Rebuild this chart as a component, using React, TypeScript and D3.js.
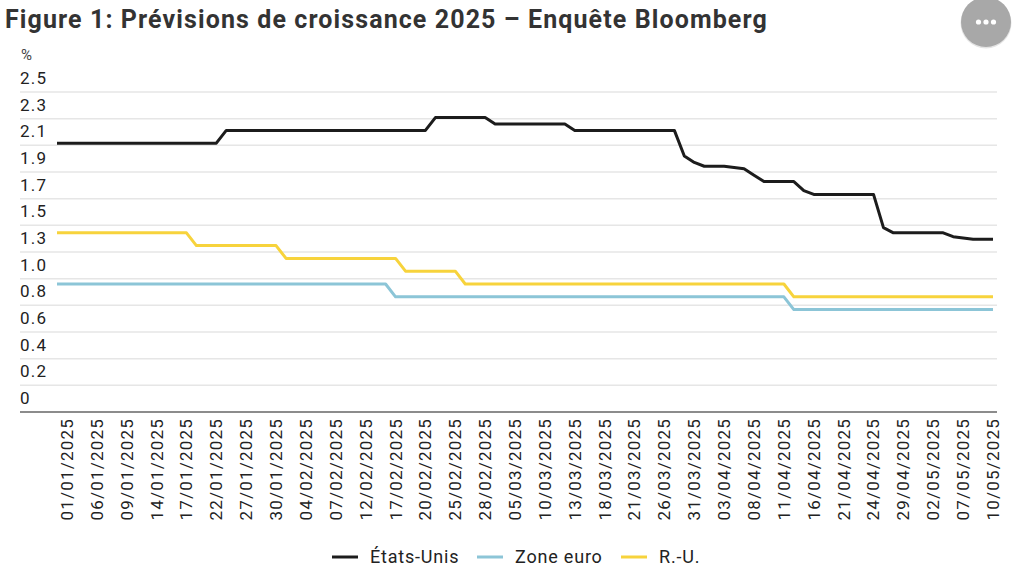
import React, { useEffect, useRef } from 'react';
import * as d3 from 'd3';

const dates: string[] = [
  '31/12/2024',
  '01/01/2025','02/01/2025','03/01/2025','06/01/2025','07/01/2025','08/01/2025','09/01/2025','10/01/2025','13/01/2025','14/01/2025',
  '15/01/2025','16/01/2025','17/01/2025','20/01/2025','21/01/2025','22/01/2025','23/01/2025','24/01/2025','27/01/2025','28/01/2025',
  '29/01/2025','30/01/2025','31/01/2025','03/02/2025','04/02/2025','05/02/2025','06/02/2025','07/02/2025','10/02/2025','11/02/2025',
  '12/02/2025','13/02/2025','14/02/2025','17/02/2025','18/02/2025','19/02/2025','20/02/2025','21/02/2025','24/02/2025','25/02/2025',
  '26/02/2025','27/02/2025','28/02/2025','03/03/2025','04/03/2025','05/03/2025','06/03/2025','07/03/2025','10/03/2025','11/03/2025',
  '12/03/2025','13/03/2025','14/03/2025','17/03/2025','18/03/2025','19/03/2025','20/03/2025','21/03/2025','24/03/2025','25/03/2025',
  '26/03/2025','27/03/2025','28/03/2025','31/03/2025','01/04/2025','02/04/2025','03/04/2025','04/04/2025','07/04/2025','08/04/2025',
  '09/04/2025','10/04/2025','11/04/2025','14/04/2025','15/04/2025','16/04/2025','17/04/2025','18/04/2025','21/04/2025','22/04/2025',
  '23/04/2025','24/04/2025','25/04/2025','28/04/2025','29/04/2025','30/04/2025','01/05/2025','02/05/2025','05/05/2025','06/05/2025',
  '07/05/2025','08/05/2025','09/05/2025','10/05/2025',
];

const usValues: number[] = [
  2.1, 2.1, 2.1, 2.1, 2.1, 2.1, 2.1, 2.1, 2.1, 2.1,
  2.1, 2.1, 2.1, 2.1, 2.1, 2.1, 2.1, 2.2, 2.2, 2.2,
  2.2, 2.2, 2.2, 2.2, 2.2, 2.2, 2.2, 2.2, 2.2, 2.2,
  2.2, 2.2, 2.2, 2.2, 2.2, 2.2, 2.2, 2.2, 2.3, 2.3,
  2.3, 2.3, 2.3, 2.3, 2.25, 2.25, 2.25, 2.25, 2.25, 2.25,
  2.25, 2.25, 2.2, 2.2, 2.2, 2.2, 2.2, 2.2, 2.2, 2.2,
  2.2, 2.2, 2.2, 2.0, 1.95, 1.92, 1.92, 1.92, 1.91, 1.9,
  1.85, 1.8, 1.8, 1.8, 1.8, 1.73, 1.7, 1.7, 1.7, 1.7,
  1.7, 1.7, 1.7, 1.44, 1.4, 1.4, 1.4, 1.4, 1.4, 1.4,
  1.37, 1.36, 1.35, 1.35, 1.35,
];

const euroValues: number[] = [
  1.0, 1.0, 1.0, 1.0, 1.0, 1.0, 1.0, 1.0, 1.0, 1.0,
  1.0, 1.0, 1.0, 1.0, 1.0, 1.0, 1.0, 1.0, 1.0, 1.0,
  1.0, 1.0, 1.0, 1.0, 1.0, 1.0, 1.0, 1.0, 1.0, 1.0,
  1.0, 1.0, 1.0, 1.0, 0.9, 0.9, 0.9, 0.9, 0.9, 0.9,
  0.9, 0.9, 0.9, 0.9, 0.9, 0.9, 0.9, 0.9, 0.9, 0.9,
  0.9, 0.9, 0.9, 0.9, 0.9, 0.9, 0.9, 0.9, 0.9, 0.9,
  0.9, 0.9, 0.9, 0.9, 0.9, 0.9, 0.9, 0.9, 0.9, 0.9,
  0.9, 0.9, 0.9, 0.9, 0.8, 0.8, 0.8, 0.8, 0.8, 0.8,
  0.8, 0.8, 0.8, 0.8, 0.8, 0.8, 0.8, 0.8, 0.8, 0.8,
  0.8, 0.8, 0.8, 0.8, 0.8,
];

const ukValues: number[] = [
  1.4, 1.4, 1.4, 1.4, 1.4, 1.4, 1.4, 1.4, 1.4, 1.4,
  1.4, 1.4, 1.4, 1.4, 1.3, 1.3, 1.3, 1.3, 1.3, 1.3,
  1.3, 1.3, 1.3, 1.2, 1.2, 1.2, 1.2, 1.2, 1.2, 1.2,
  1.2, 1.2, 1.2, 1.2, 1.2, 1.1, 1.1, 1.1, 1.1, 1.1,
  1.1, 1.0, 1.0, 1.0, 1.0, 1.0, 1.0, 1.0, 1.0, 1.0,
  1.0, 1.0, 1.0, 1.0, 1.0, 1.0, 1.0, 1.0, 1.0, 1.0,
  1.0, 1.0, 1.0, 1.0, 1.0, 1.0, 1.0, 1.0, 1.0, 1.0,
  1.0, 1.0, 1.0, 1.0, 0.9, 0.9, 0.9, 0.9, 0.9, 0.9,
  0.9, 0.9, 0.9, 0.9, 0.9, 0.9, 0.9, 0.9, 0.9, 0.9,
  0.9, 0.9, 0.9, 0.9, 0.9,
];

const yTickLabels: string[] = ['0', '0.2', '0.4', '0.6', '0.8', '1.0', '1.3', '1.5', '1.7', '1.9', '2.1', '2.3', '2.5'];
const yMax = 2.5;
const seriesNames: string[] = ['États-Unis', 'Zone euro', 'R.-U.'];
const title = 'Figure 1: Prévisions de croissance 2025 – Enquête Bloomberg';
const unitLabel = '%';
const labelStep = 3;
const labelOffset = 1;

const FONT = 'Roboto, "Noto Sans", sans-serif';

export default function App() {
  const ref = useRef<SVGSVGElement>(null);

  useEffect(() => {
    document.body.style.margin = '0';
    const svg = d3.select(ref.current);
    svg.selectAll('*').remove();

    const W = 1024;
    const gridLeft = 20;
    const gridRight = 997;
    const yBottom = 412;
    const yTop = 92;

    const x = d3.scalePoint<string>().domain(dates).range([57, 993]);
    const y = d3.scaleLinear().domain([0, yMax]).range([yBottom, yTop]);

    svg.append('rect').attr('width', W).attr('height', 570).attr('fill', '#ffffff');

    // title
    svg.append('text')
      .attr('x', 5).attr('y', 28)
      .attr('font-family', FONT).attr('font-weight', 700).attr('font-size', 25)
      .attr('letter-spacing', 1.1)
      .attr('fill', '#333333')
      .text(title);

    // menu button
    const btn = svg.append('g');
    btn.append('circle').attr('cx', 986).attr('cy', 23).attr('r', 25.5).attr('fill', '#e4e4e4');
    btn.append('circle').attr('cx', 986).attr('cy', 22).attr('r', 25).attr('fill', '#a8a8a8');
    [-7.5, 0, 7.5].forEach((d) => {
      btn.append('circle').attr('cx', 986 + d).attr('cy', 22).attr('r', 2.6).attr('fill', '#ffffff');
    });

    // unit
    svg.append('text')
      .attr('x', 21).attr('y', 60)
      .attr('font-family', FONT).attr('font-size', 15)
      .attr('fill', '#444444')
      .text(unitLabel);

    // grid + y labels
    const nT = yTickLabels.length - 1;
    yTickLabels.forEach((lab, i) => {
      const v = (i * yMax) / nT;
      const yy = y(v);
      if (i > 0) {
        svg.append('line')
          .attr('x1', gridLeft).attr('x2', gridRight)
          .attr('y1', yy).attr('y2', yy)
          .attr('stroke', '#e6e6e6').attr('stroke-width', 1.5);
      }
      svg.append('text')
        .attr('x', gridLeft).attr('y', yy - 8)
        .attr('font-family', FONT).attr('font-size', 17)
        .attr('letter-spacing', 1.2)
        .attr('fill', '#222222')
        .text(lab);
    });

    // x axis line
    svg.append('line')
      .attr('x1', gridLeft).attr('x2', gridRight)
      .attr('y1', yBottom).attr('y2', yBottom)
      .attr('stroke', '#666666').attr('stroke-width', 1.5);

    // x labels
    dates.forEach((d, i) => {
      if (i % labelStep !== labelOffset) return;
      svg.append('text')
        .attr('transform', `translate(${x(d)},418) rotate(-90)`)
        .attr('text-anchor', 'end')
        .attr('dy', '0.35em')
        .attr('font-family', FONT).attr('font-size', 17)
        .attr('letter-spacing', 1.2)
        .attr('fill', '#222222')
        .text(d);
    });

    const line = d3.line<number>()
      .x((_, i) => x(dates[i]) as number)
      .y((v) => y(v));

    const series = [
      { name: seriesNames[1], values: euroValues, color: '#8cc5d7' },
      { name: seriesNames[2], values: ukValues, color: '#f7d33c' },
      { name: seriesNames[0], values: usValues, color: '#1c1c1c' },
    ];
    series.forEach((s) => {
      svg.append('path')
        .attr('d', line(s.values) as string)
        .attr('fill', 'none')
        .attr('stroke', s.color)
        .attr('stroke-width', 3)
        .attr('stroke-linejoin', 'round')
        .attr('stroke-linecap', 'butt');
    });

    // legend
    const legendItems = [
      { name: seriesNames[0], color: '#1c1c1c', x: 332 },
      { name: seriesNames[1], color: '#8cc5d7', x: 477 },
      { name: seriesNames[2], color: '#f7d33c', x: 621 },
    ];
    legendItems.forEach((it) => {
      svg.append('line')
        .attr('x1', it.x).attr('x2', it.x + 26)
        .attr('y1', 557).attr('y2', 557)
        .attr('stroke', it.color).attr('stroke-width', 3);
      svg.append('text')
        .attr('x', it.x + 38).attr('y', 563)
        .attr('font-family', FONT).attr('font-size', 18)
        .attr('letter-spacing', 0.8)
        .attr('fill', '#222222')
        .text(it.name);
    });
  }, []);

  return <svg ref={ref} width={1024} height={570} style={{ display: 'block' }} />;
}
